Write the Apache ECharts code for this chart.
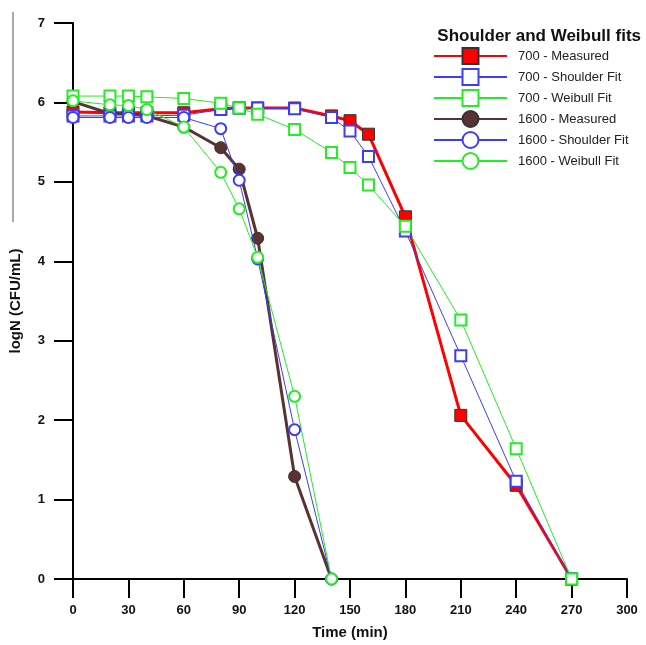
<!DOCTYPE html>
<html>
<head>
<meta charset="utf-8">
<script src="https://cdn.jsdelivr.net/npm/echarts@6/dist/echarts.min.js"></script>
<style>
  html, body { margin: 0; padding: 0; background: #fff; }
  #chart { width: 646px; height: 645px; }
</style>
</head>
<body>
<div id="chart"></div>
<script>
// sampling times (min)
const times700 = [0, 20, 30, 40, 60, 80, 90, 100, 120, 140, 150, 160, 180, 210, 240, 270];
const times1600 = [0, 20, 30, 40, 60, 80, 90, 100, 120, 140];

// logN values
const meas700 = [5.88, 5.87, 5.87, 5.87, 5.87, 5.92, 5.93, 5.93, 5.93, 5.83, 5.77, 5.60, 4.56, 2.06, 1.18, 0];
const shoulder700 = [5.83, 5.83, 5.83, 5.83, 5.84, 5.91, 5.93, 5.93, 5.92, 5.81, 5.64, 5.32, 4.38, 2.81, 1.23, 0];
const weibull700 = [6.08, 6.08, 6.08, 6.07, 6.05, 5.99, 5.93, 5.85, 5.66, 5.37, 5.18, 4.96, 4.44, 3.26, 1.64, 0];
const meas1600 = [6.01, 5.86, 5.86, 5.83, 5.69, 5.43, 5.16, 4.29, 1.29, 0];
const shoulder1600 = [5.81, 5.81, 5.81, 5.81, 5.81, 5.67, 5.02, 4.03, 1.88, 0];
const weibull1600 = [6.02, 5.97, 5.96, 5.91, 5.69, 5.12, 4.66, 4.05, 2.30, 0];

const xTicks = [0, 30, 60, 90, 120, 150, 180, 210, 240, 270, 300];
const yTicks = [0, 1, 2, 3, 4, 5, 6, 7];

const pairs = (xs, ys) => xs.map((x, i) => [x, ys[i]]);

const BLUE = '#3c3cff';
const GREEN = '#22ee22';
const RED = '#ff0000';
const BROWN = '#5a3232';
const FONT = 'Liberation Sans, Arial, sans-serif';

const chart = echarts.init(document.getElementById('chart'));

chart.setOption({
  animation: false,
  backgroundColor: '#fff',
  title: {
    text: 'Shoulder and Weibull fits',
    right: 0,
    top: 23,
    textStyle: { fontFamily: FONT, fontSize: 17, fontWeight: 'bold', color: '#111' },
  },
  legend: {
    orient: 'vertical',
    left: 428,
    top: 42,
    itemWidth: 73,
    itemHeight: 20,
    itemGap: 3,
    textStyle: { fontFamily: FONT, fontSize: 13, color: '#222', padding: [0, 0, 0, 6] },
    data: ['700 - Measured', '700 - Shoulder Fit', '700 - Weibull Fit',
      '1600 - Measured', '1600 - Shoulder Fit', '1600 - Weibull Fit'],
  },
  grid: { left: 73, right: 19, top: 23, bottom: 65 },
  xAxis: {
    type: 'value',
    min: 0,
    max: 300,
    interval: 30,
    name: 'Time (min)',
    nameLocation: 'middle',
    nameGap: 46,
    nameTextStyle: { fontFamily: FONT, fontSize: 15, fontWeight: 'bold', color: '#111' },
    axisLine: { onZero: false, lineStyle: { color: '#000', width: 2 } },
    axisTick: { show: true, length: 19, lineStyle: { color: '#000', width: 2 } },
    axisLabel: {
      margin: 25,
      fontFamily: FONT, fontSize: 13, fontWeight: 'bold', color: '#111',
      formatter: v => (xTicks.includes(v) ? String(v) : ''),
    },
    splitLine: { show: false },
  },
  yAxis: {
    type: 'value',
    min: 0,
    max: 7,
    interval: 1,
    name: 'logN (CFU/mL)',
    nameLocation: 'middle',
    nameGap: 50,
    nameTextStyle: { fontFamily: FONT, fontSize: 15, fontWeight: 'bold', color: '#111' },
    axisLine: { show: true, onZero: false, lineStyle: { color: '#000', width: 2 } },
    axisTick: { show: true, length: 19, lineStyle: { color: '#000', width: 2 } },
    axisLabel: {
      margin: 28,
      fontFamily: FONT, fontSize: 13, fontWeight: 'bold', color: '#111',
      formatter: v => (yTicks.includes(v) ? String(v) : ''),
    },
    splitLine: { show: false },
  },
  graphic: [
    {
      type: 'line',
      shape: { x1: 13, y1: 12, x2: 13, y2: 222 },
      style: { stroke: '#555', lineWidth: 1 },
    },
  ],
  series: [
    {
      name: '700 - Measured',
      type: 'line',
      data: pairs(times700, meas700),
      symbol: 'rect',
      symbolSize: 12,
      lineStyle: { color: RED, width: 3 },
      itemStyle: { color: RED, borderColor: '#333', borderWidth: 1 },
      z: 2,
    },
    {
      name: '700 - Shoulder Fit',
      type: 'line',
      data: pairs(times700, shoulder700),
      symbol: 'emptyRect',
      symbolSize: 11,
      lineStyle: { color: BLUE, width: 1 },
      itemStyle: { color: BLUE, borderWidth: 1.5 },
      z: 3,
    },
    {
      name: '700 - Weibull Fit',
      type: 'line',
      data: pairs(times700, weibull700),
      symbol: 'emptyRect',
      symbolSize: 11,
      lineStyle: { color: GREEN, width: 1 },
      itemStyle: { color: GREEN, borderWidth: 1.5 },
      z: 3,
    },
    {
      name: '1600 - Measured',
      type: 'line',
      data: pairs(times1600, meas1600),
      symbol: 'circle',
      symbolSize: 12,
      lineStyle: { color: BROWN, width: 3 },
      itemStyle: { color: BROWN, borderColor: '#333', borderWidth: 1 },
      z: 2,
    },
    {
      name: '1600 - Shoulder Fit',
      type: 'line',
      data: pairs(times1600, shoulder1600),
      symbol: 'emptyCircle',
      symbolSize: 11,
      lineStyle: { color: BLUE, width: 1 },
      itemStyle: { color: BLUE, borderWidth: 1.5 },
      z: 3,
    },
    {
      name: '1600 - Weibull Fit',
      type: 'line',
      data: pairs(times1600, weibull1600),
      symbol: 'emptyCircle',
      symbolSize: 11,
      lineStyle: { color: GREEN, width: 1 },
      itemStyle: { color: GREEN, borderWidth: 1.5 },
      z: 3,
    },
  ],
});
</script>
</body>
</html>
